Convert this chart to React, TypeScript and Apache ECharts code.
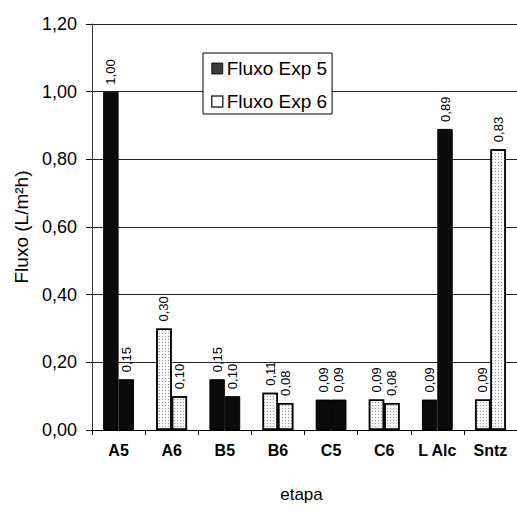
import React, { useEffect, useRef } from "react";
import * as echarts from "echarts";

const categories = ["A5", "A6", "B5", "B6", "C5", "C6", "L Alc", "Sntz"];
const firstBar = [1.0, 0.3, 0.15, 0.11, 0.09, 0.09, 0.09, 0.09];
const secondBar = [0.15, 0.1, 0.1, 0.08, 0.09, 0.08, 0.89, 0.83];
const experiment = ["5", "6", "5", "6", "5", "6", "5", "6"];
const legendNames = ["Fluxo Exp 5", "Fluxo Exp 6"];
const yTicks = { min: 0, max: 1.2, interval: 0.2 };

const FONT = "'Liberation Sans', Arial, sans-serif";
const darkStyle = { color: "#0b0b0b", borderColor: "#000", borderWidth: 1 };
const dotDecal = {
  symbol: "rect",
  symbolSize: 1,
  color: "#9a9a9a",
  dashArrayX: [1, 2],
  dashArrayY: [1, 2],
  rotation: 0,
};
const lightStyle = { color: "#f7f7f7", borderColor: "#000", borderWidth: 1.5, decal: dotDecal };

const fmt = (v: number) => v.toFixed(2).replace(".", ",");

function barData(values: number[]) {
  return values.map((v, i) => ({
    value: v,
    itemStyle: experiment[i] === "5" ? darkStyle : lightStyle,
  }));
}

export default function App() {
  const ref = useRef<HTMLDivElement>(null);
  useEffect(() => {
    if (!ref.current) return;
    const chart = echarts.init(ref.current, null, { renderer: "svg" });
    const label = {
      show: true,
      position: "top",
      rotate: 90,
      align: "left",
      verticalAlign: "middle",
      distance: 7,
      fontSize: 13,
      fontFamily: FONT,
      color: "#000",
      formatter: (p: any) => fmt(p.value),
    };
    chart.setOption({
      animation: false,
      backgroundColor: "#fff",
      textStyle: { fontFamily: FONT },
      grid: { left: 92, right: -5, top: 24, bottom: 88, containLabel: false },
      legend: {
        orient: "vertical",
        left: 203,
        top: 53,
        padding: [6, 5, 3, 8],
        itemGap: 14,
        itemWidth: 11,
        itemHeight: 11,
        selectedMode: false,
        backgroundColor: "#fff",
        borderColor: "#000",
        borderWidth: 1,
        borderRadius: 0,
        textStyle: { fontSize: 19, fontFamily: FONT, color: "#000", padding: [0, 0, 0, -1] },
        data: [
          { name: legendNames[0], icon: "rect", itemStyle: { color: "#0b0b0b", borderColor: "#000", borderWidth: 1 } },
          { name: legendNames[1], icon: "rect", itemStyle: { color: "#fff", borderColor: "#000", borderWidth: 1.5 } },
        ],
      },
      xAxis: {
        type: "category",
        data: categories,
        name: "etapa",
        nameLocation: "middle",
        nameGap: 56,
        nameTextStyle: { fontSize: 17, fontFamily: FONT, color: "#000", padding: [0, 6, 0, 0] },
        axisLine: { lineStyle: { color: "#000", width: 1 } },
        axisTick: { show: true, length: 5, interval: 0, lineStyle: { color: "#000" } },
        axisLabel: { margin: 12, fontSize: 16, fontWeight: "bold", fontFamily: FONT, color: "#000", interval: 0 },
      },
      yAxis: {
        type: "value",
        min: yTicks.min,
        max: yTicks.max,
        interval: yTicks.interval,
        name: "Fluxo (L/m²h)",
        nameLocation: "middle",
        nameRotate: 90,
        nameGap: 61,
        nameTextStyle: { fontSize: 19, fontFamily: FONT, color: "#000" },
        axisLine: { show: true, lineStyle: { color: "#333", width: 1 } },
        axisTick: { show: true, length: 6, lineStyle: { color: "#000" } },
        axisLabel: { margin: 15, fontSize: 18, fontFamily: FONT, color: "#000", formatter: (v: number) => fmt(v) },
        splitLine: { show: true, lineStyle: { color: "#222", width: 1 } },
      },
      series: [
        {
          type: "bar",
          name: "Etapa 1",
          data: barData(firstBar),
          barGap: "0%",
          barCategoryGap: "42%",
          label,
        },
        {
          type: "bar",
          name: "Etapa 2",
          data: barData(secondBar),
          barGap: "0%",
          barCategoryGap: "42%",
          label,
        },
        { type: "scatter", name: legendNames[0], data: [], itemStyle: { color: "#0b0b0b", borderColor: "#000", borderWidth: 1 } },
        { type: "scatter", name: legendNames[1], data: [], itemStyle: { color: "#fff", borderColor: "#000", borderWidth: 1.5 } },
      ],
    });
    return () => chart.dispose();
  }, []);
  return (
    <div
      ref={ref}
      style={{ position: "absolute", left: 0, top: 0, width: 517, height: 518, overflow: "hidden" }}
    />
  );
}
